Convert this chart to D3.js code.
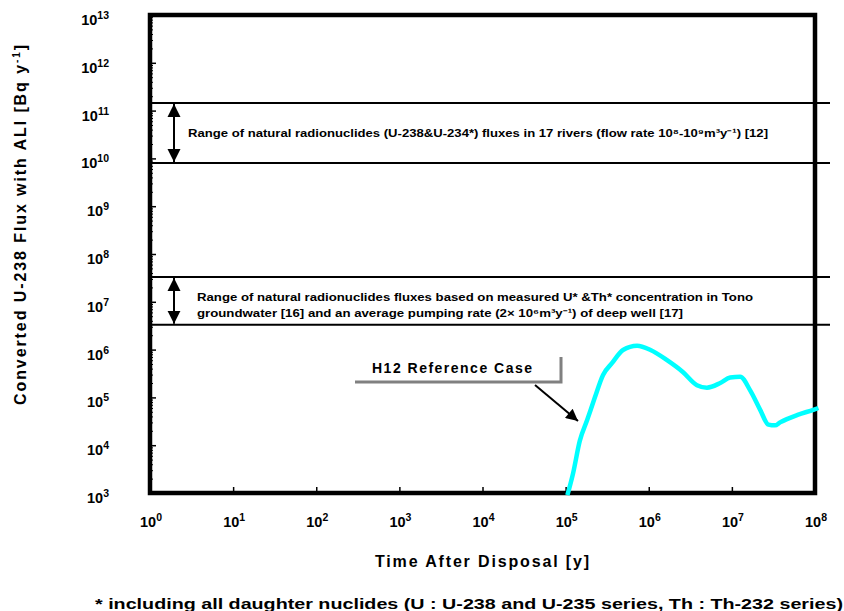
<!DOCTYPE html>
<html lang="en">
<head>
  <meta charset="UTF-8">
  <title>Converted U-238 Flux with ALI</title>
  <style>
    body { margin: 0; background: #fff; }
    svg { display: block; font-family: "Liberation Sans", Arial, sans-serif; font-weight: bold; }
  </style>
</head>
<body>
  <script src="https://d3js.org/d3.v7.min.js"></script>
  <script>
    const width = 844, height = 611;

    // H12 reference case: time after disposal [y] and converted flux [Bq/y]
    const years = [1.05e5, 1.23e5, 1.48e5, 1.82e5, 2.24e5, 2.82e5, 3.63e5, 4.9e5, 7.24e5,
                   1.05e6, 1.66e6, 2.57e6, 3.8e6, 5.01e6, 7.24e6, 9.55e6, 1.26e7, 1.66e7,
                   2.19e7, 2.75e7, 3.3e7, 3.8e7, 6.17e7, 9.55e7, 1.1e8];
    const flux = [9e2, 2.6e3, 1.23e4, 3.4e4, 9.8e4, 2.95e5, 5.25e5, 9.8e5, 1.2e6,
                  9.8e5, 6.0e5, 3.4e5, 1.8e5, 1.6e5, 2.0e5, 2.6e5, 2.7e5, 1.4e5,
                  5.5e4, 2.7e4, 2.6e4, 3.0e4, 4.3e4, 5.5e4, 6.0e4];

    // ranges of natural fluxes [Bq/y]
    const riverRange = [8e9, 1.45e11];
    const tonoRange = [3.3e6, 3.3e7];

    const xExponents = [0, 1, 2, 3, 4, 5, 6, 7, 8];
    const yExponents = [3, 4, 5, 6, 7, 8, 9, 10, 11, 12, 13];

    const riverText = "Range of natural radionuclides (U-238&U-234*) fluxes in 17 rivers (flow rate 10⁸-10⁹m³y⁻¹) [12]";
    const tonoText = ["Range of natural radionuclides fluxes based on measured U* &Th* concentration in Tono",
                      "groundwater [16] and an average pumping rate (2× 10⁶m³y⁻¹) of deep well [17]"];
    const footnote = "* including all daughter nuclides (U : U-238 and U-235 series, Th : Th-232 series)";

    const plotL = 150, plotR = 815, plotT = 15, plotB = 493;

    const svg = d3.select("body").append("svg")
      .attr("width", width)
      .attr("height", height);

    const x = d3.scaleLog().domain([1, 1e8]).range([plotL, plotR]);
    const y = d3.scaleLog().domain([1e3, 1e13]).range([plotB, plotT]);

    const defs = svg.append("defs");
    defs.append("marker")
      .attr("id", "head")
      .attr("viewBox", "0 0 10 10")
      .attr("refX", 10).attr("refY", 5)
      .attr("markerWidth", 6.5).attr("markerHeight", 7)
      .attr("markerUnits", "strokeWidth")
      .attr("orient", "auto-start-reverse")
      .append("path").attr("d", "M0,0L10,5L0,10Z").attr("fill", "#000");
    defs.append("marker")
      .attr("id", "head2")
      .attr("viewBox", "0 0 10 10")
      .attr("refX", 10).attr("refY", 5)
      .attr("markerWidth", 7).attr("markerHeight", 6)
      .attr("markerUnits", "strokeWidth")
      .attr("orient", "auto")
      .append("path").attr("d", "M0,0L10,5L0,10Z").attr("fill", "#000");

    // minor and major ticks on the left axis (inward)
    const minor = [];
    for (let e = 3; e < 13; e++) for (let m = 2; m < 10; m++) minor.push(m * Math.pow(10, e));
    svg.append("g")
      .attr("transform", `translate(${plotL},0)`)
      .call(d3.axisLeft(y).tickValues(minor).tickSize(-3).tickFormat(""))
      .call(g => g.select(".domain").remove())
      .call(g => g.selectAll("line").attr("stroke-width", 1));
    svg.append("g")
      .attr("transform", `translate(${plotL},0)`)
      .call(d3.axisLeft(y).tickValues(yExponents.map(e => Math.pow(10, e))).tickSize(-6).tickFormat(""))
      .call(g => g.select(".domain").remove())
      .call(g => g.selectAll("line").attr("stroke-width", 1.5));

    svg.append("g")
      .attr("transform", `translate(0,${plotB})`)
      .call(d3.axisBottom(x).tickValues(xExponents.map(e => Math.pow(10, e))).tickSize(-6).tickFormat(""))
      .call(g => g.select(".domain").remove())
      .call(g => g.selectAll("line").attr("stroke-width", 1.5));

    // tick labels 10^n
    function power(g, e) {
      g.append("tspan").text("10");
      g.append("tspan").attr("dy", -6).attr("font-size", 10.5).text(e);
    }
    svg.append("g").selectAll("text").data(yExponents).join("text")
      .attr("x", 109).attr("y", e => y(Math.pow(10, e)) + 10)
      .attr("text-anchor", "end").attr("font-size", 14.5)
      .each(function (e) { power(d3.select(this), e); });
    svg.append("g").selectAll("text").data(xExponents).join("text")
      .attr("x", e => x(Math.pow(10, e)) + 1).attr("y", 527)
      .attr("text-anchor", "middle").attr("font-size", 14.5)
      .each(function (e) { power(d3.select(this), e); });

    // range bands
    [riverRange, tonoRange].forEach(r => {
      r.forEach(v => {
        svg.append("line")
          .attr("x1", plotL).attr("x2", 830)
          .attr("y1", y(v)).attr("y2", y(v))
          .attr("stroke", "#000").attr("stroke-width", 2);
      });
      svg.append("line")
        .attr("x1", 174).attr("x2", 174)
        .attr("y1", y(r[1]) + 1).attr("y2", y(r[0]) - 1)
        .attr("stroke", "#000").attr("stroke-width", 2)
        .attr("marker-start", "url(#head)")
        .attr("marker-end", "url(#head)");
    });

    svg.append("text")
      .attr("x", 188).attr("y", y(riverRange[1]) + 34)
      .attr("font-size", 10.5)
      .attr("textLength", 580).attr("lengthAdjust", "spacingAndGlyphs")
      .text(riverText);
    tonoText.forEach((t, i) => {
      svg.append("text")
        .attr("x", 197).attr("y", y(tonoRange[1]) + 24 + i * 16)
        .attr("font-size", 10.5)
        .attr("textLength", i === 0 ? 556 : 486).attr("lengthAdjust", "spacingAndGlyphs")
        .text(t);
    });

    // frame
    svg.append("rect")
      .attr("x", plotL).attr("y", plotT)
      .attr("width", plotR - plotL).attr("height", plotB - plotT)
      .attr("fill", "none").attr("stroke", "#000").attr("stroke-width", 4.5);

    // H12 curve
    const line = d3.line()
      .x((d, i) => x(years[i]))
      .y((d, i) => y(flux[i]))
      .curve(d3.curveMonotoneX);
    svg.append("path")
      .datum(flux)
      .attr("d", line)
      .attr("fill", "none")
      .attr("stroke", "#00ffff")
      .attr("stroke-width", 4.5)
      .attr("stroke-linejoin", "round");

    // label box for H12
    svg.append("path")
      .attr("d", "M355,382H561V357")
      .attr("fill", "none").attr("stroke", "#808080").attr("stroke-width", 3);
    svg.append("text")
      .attr("x", 372).attr("y", 373)
      .attr("font-size", 14)
      .attr("textLength", 160).attr("lengthAdjust", "spacing")
      .text("H12 Reference Case");
    svg.append("line")
      .attr("x1", 535).attr("y1", 385).attr("x2", 578).attr("y2", 421)
      .attr("stroke", "#000").attr("stroke-width", 2)
      .attr("marker-end", "url(#head2)");

    // axis titles
    const yt = svg.append("text")
      .attr("transform", "translate(26,225) rotate(-90)")
      .attr("text-anchor", "middle").attr("font-size", 16)
      .attr("textLength", 360).attr("lengthAdjust", "spacing");
    yt.append("tspan").text("Converted U-238 Flux with ALI [Bq y");
    yt.append("tspan").attr("dy", -6).attr("font-size", 10).text("-1");
    yt.append("tspan").attr("dy", 6).text("]");

    svg.append("text")
      .attr("x", 482).attr("y", 567)
      .attr("text-anchor", "middle").attr("font-size", 16)
      .attr("textLength", 214).attr("lengthAdjust", "spacing")
      .text("Time After Disposal [y]");

    svg.append("text")
      .attr("x", 95).attr("y", 609)
      .attr("font-size", 15)
      .attr("textLength", 748).attr("lengthAdjust", "spacingAndGlyphs")
      .text(footnote);
  </script>
</body>
</html>
